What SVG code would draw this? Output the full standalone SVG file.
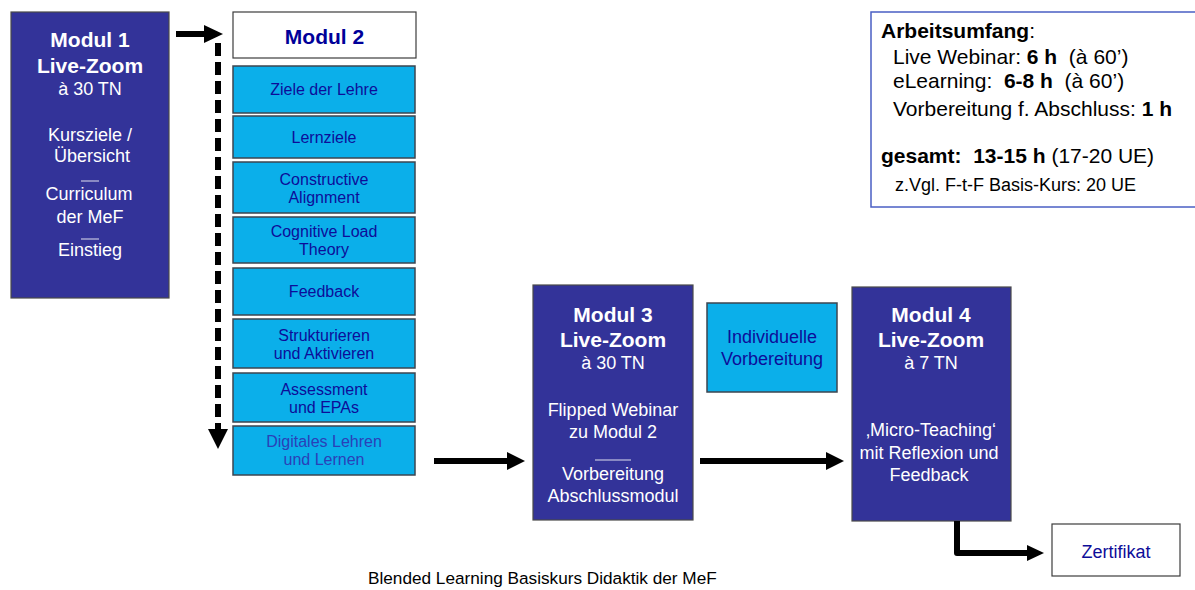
<svg xmlns="http://www.w3.org/2000/svg" width="1195" height="590" viewBox="0 0 1195 590">
<style>
.mod{fill:#333399;stroke:#4a4a4a;stroke-width:1.2}
.cy{fill:#0BAFEA;stroke:#3c4650;stroke-width:1.5}
.wb{fill:#fff;stroke:#3c3c3c;stroke-width:1.2}
text{font-family:"Liberation Sans",Arial,sans-serif}
.wt{fill:#fff;text-anchor:middle;font-size:18px}
.wt .b{font-weight:bold;font-size:21px}
.ct{fill:#0d0d99;text-anchor:middle;font-size:16px}
.bt{fill:#000;font-size:21px}
.sep{stroke:#e0e0ee;stroke-width:1}
.ar{fill:none;stroke:#000;stroke-width:6}
</style>
<rect width="1195" height="590" fill="#fff"/>
<g id="modul1">
<rect class="mod" x="11" y="12" width="158" height="286"/>
<text class="wt"><tspan class="b" x="90" y="47">Modul 1</tspan><tspan class="b" x="90" y="73">Live-Zoom</tspan><tspan x="90" y="95">à 30 TN</tspan><tspan x="90" y="141">Kursziele /</tspan><tspan x="92" y="162">Übersicht</tspan><tspan x="89" y="200">Curriculum</tspan><tspan x="90" y="223">der MeF</tspan><tspan x="90" y="256">Einstieg</tspan></text>
<line class="sep" x1="81" y1="181" x2="99" y2="181"/>
<line class="sep" x1="81" y1="239" x2="99" y2="239"/>
</g>
<g id="modul2">
<rect class="wb" x="233" y="12" width="183" height="46"/>
<text x="324.5" y="44" text-anchor="middle" font-size="21" font-weight="bold" fill="#000099">Modul 2</text>
</g>
<g id="m2-ziele"><rect class="cy" x="233" y="66" width="182" height="47"/><text class="ct" x="324" y="95">Ziele der Lehre</text></g>
<g id="m2-lernziele"><rect class="cy" x="233" y="116" width="182" height="42"/><text class="ct" x="324" y="143">Lernziele</text></g>
<g id="m2-ca"><rect class="cy" x="233" y="162" width="182" height="51"/><text class="ct"><tspan x="324" y="185">Constructive</tspan><tspan x="324" y="203">Alignment</tspan></text></g>
<g id="m2-clt"><rect class="cy" x="233" y="217" width="182" height="46"/><text class="ct"><tspan x="324" y="237">Cognitive Load</tspan><tspan x="324" y="255">Theory</tspan></text></g>
<g id="m2-feedback"><rect class="cy" x="233" y="268" width="182" height="47"/><text class="ct" x="324" y="297">Feedback</text></g>
<g id="m2-struk"><rect class="cy" x="233" y="319" width="182" height="49"/><text class="ct"><tspan x="324" y="341">Strukturieren</tspan><tspan x="324" y="359">und Aktivieren</tspan></text></g>
<g id="m2-assess"><rect class="cy" x="233" y="373" width="182" height="49"/><text class="ct"><tspan x="324" y="395">Assessment</tspan><tspan x="324" y="413">und EPAs</tspan></text></g>
<g id="m2-digital"><rect class="cy" x="233" y="426" width="182" height="49"/><text class="ct" style="fill:#2a40b8"><tspan x="324" y="447">Digitales Lehren</tspan><tspan x="324" y="465">und Lernen</tspan></text></g>
<g id="modul3">
<rect class="mod" x="533" y="285" width="160" height="235"/>
<text class="wt"><tspan class="b" x="613" y="322">Modul 3</tspan><tspan class="b" x="613" y="347">Live-Zoom</tspan><tspan x="613" y="369">à 30 TN</tspan><tspan x="613" y="416">Flipped Webinar</tspan><tspan x="613" y="438">zu Modul 2</tspan><tspan x="613" y="480">Vorbereitung</tspan><tspan x="613" y="502">Abschlussmodul</tspan></text>
<line class="sep" x1="595" y1="460" x2="631" y2="460"/>
</g>
<g id="individuell">
<rect class="cy" x="707" y="303" width="130" height="89"/>
<text class="ct" style="font-size:18px"><tspan x="772" y="343">Individuelle</tspan><tspan x="772" y="365">Vorbereitung</tspan></text>
</g>
<g id="modul4">
<rect class="mod" x="852" y="287" width="159" height="234"/>
<text class="wt"><tspan class="b" x="931" y="322">Modul 4</tspan><tspan class="b" x="931" y="347">Live-Zoom</tspan><tspan x="931" y="369">à 7 TN</tspan><tspan x="931" y="436">‚Micro-Teaching‘</tspan><tspan x="929" y="459">mit Reflexion und</tspan><tspan x="929" y="481">Feedback</tspan></text>
</g>
<g id="zertifikat">
<rect class="wb" x="1052" y="524" width="128" height="52"/>
<text class="ct" x="1116" y="558" style="font-size:18px">Zertifikat</text>
</g>
<g id="arbeitsumfang">
<rect x="871" y="12" width="330" height="195" fill="#fff" stroke="#4a5fc4" stroke-width="1.5"/>
<text class="bt" x="881" y="38"><tspan font-weight="bold">Arbeitsumfang</tspan>:</text>
<text class="bt" x="893" y="64" xml:space="preserve">Live Webinar: <tspan font-weight="bold">6 h</tspan>  (à 60’)</text>
<text class="bt" x="893" y="88" xml:space="preserve">eLearning:  <tspan font-weight="bold">6-8 h</tspan>  (à 60’)</text>
<text class="bt" x="893" y="116">Vorbereitung f. Abschluss: <tspan font-weight="bold">1 h</tspan></text>
<text class="bt" x="881" y="163" xml:space="preserve"><tspan font-weight="bold">gesamt:  13-15 h</tspan> (17-20 UE)</text>
<text class="bt" x="895" y="191" style="font-size:18px">z.Vgl. F-t-F Basis-Kurs: 20 UE</text>
</g>
<g id="connectors">
<line class="ar" x1="176" y1="34" x2="207" y2="34"/>
<polygon points="204,25 223,34 204,43"/>
<line x1="218" y1="43" x2="218" y2="430" stroke="#000" stroke-width="6" stroke-dasharray="13,6"/>
<polygon points="208,429 228,429 218,449"/>
<line class="ar" x1="434" y1="461" x2="510" y2="461"/>
<polygon points="507,452 525,461 507,470"/>
<line class="ar" x1="700" y1="461" x2="828" y2="461"/>
<polygon points="826,452 844,461 826,470"/>
<path class="ar" d="M957,521 V553 H1030" stroke-linejoin="round"/>
<polygon points="1027,545 1044,553 1027,561"/>
</g>
<text x="368" y="584" font-size="17.2" fill="#000">Blended Learning Basiskurs Didaktik der MeF</text>
</svg>
